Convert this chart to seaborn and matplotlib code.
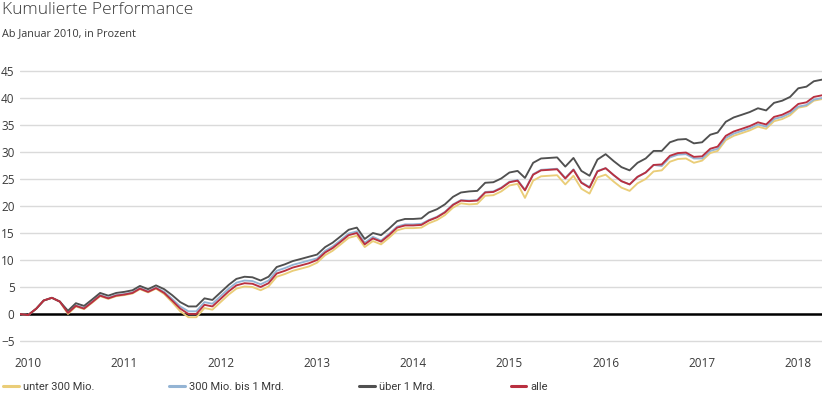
import matplotlib
matplotlib.use("Agg")
import matplotlib.pyplot as plt
from matplotlib.lines import Line2D
import numpy as np
import pandas as pd
import seaborn as sns

# ---- data (monthly, Dec 2009 .. Apr 2018), cumulative performance in % ----
start_month = "2009-12-01"
n_months = 101

ueber_1_mrd = [
    0.0, -0.2, 1.0, 2.5, 3.0, 2.3, 0.6, 2.0, 1.5, 2.7,
    3.9, 3.4, 3.9, 4.1, 4.4, 5.2, 4.6, 5.3, 4.6, 3.5,
    2.2, 1.4, 1.4, 2.9, 2.6, 4.0, 5.4, 6.5, 6.9, 6.8,
    6.2, 6.9, 8.7, 9.2, 9.8, 10.2, 10.6, 11.0, 12.4, 13.2,
    14.4, 15.6, 16.0, 13.9, 15.0, 14.6, 15.8, 17.2, 17.6, 17.6,
    17.7, 18.8, 19.4, 20.3, 21.7, 22.5, 22.7, 22.8, 24.3, 24.4,
    25.1, 26.2, 26.5, 25.2, 28.0, 28.8, 28.9, 29.0, 27.3, 28.9,
    26.5, 25.6, 28.6, 29.6, 28.3, 27.2, 26.6, 28.0, 28.8, 30.2,
    30.2, 31.8, 32.3, 32.4, 31.6, 31.8, 33.2, 33.6, 35.6, 36.4,
    36.9, 37.4, 38.1, 37.7, 39.1, 39.5, 40.2, 41.8, 42.1, 43.1,
    43.4,
]
mio_300_bis_1_mrd = [
    0.0, -0.2, 1.0, 2.5, 3.0, 2.3, 0.3, 1.6, 1.1, 2.3,
    3.5, 3.0, 3.5, 3.7, 4.0, 4.8, 4.2, 4.9, 4.1, 2.8,
    1.4, 0.5, 0.5, 2.2, 1.9, 3.3, 4.7, 5.8, 6.2, 6.1,
    5.5, 6.2, 8.0, 8.5, 9.1, 9.5, 9.9, 10.3, 11.7, 12.5,
    13.7, 14.9, 15.3, 13.2, 14.3, 13.6, 14.8, 16.2, 16.6, 16.6,
    16.7, 17.4, 18.0, 18.9, 20.3, 21.1, 21.0, 21.1, 22.6, 22.7,
    23.4, 24.5, 24.8, 23.0, 25.9, 26.7, 26.8, 26.9, 25.2, 26.8,
    24.4, 23.5, 26.5, 27.0, 25.7, 24.6, 24.0, 25.4, 26.2, 27.6,
    27.4, 29.0, 29.5, 29.6, 28.8, 28.8, 30.2, 30.6, 32.6, 33.4,
    33.9, 34.4, 35.1, 34.7, 36.1, 36.5, 37.2, 38.4, 38.7, 39.7,
    40.0,
]
alle = [
    0.0, -0.2, 1.0, 2.5, 3.0, 2.3, 0.2, 1.5, 1.0, 2.2,
    3.4, 2.9, 3.4, 3.6, 3.9, 4.7, 4.1, 4.8, 3.9, 2.5,
    1.0, 0.0, 0.0, 1.7, 1.4, 2.8, 4.2, 5.3, 5.7, 5.6,
    5.0, 5.7, 7.5, 8.0, 8.6, 9.0, 9.4, 10.0, 11.4, 12.2,
    13.4, 14.6, 15.0, 12.9, 14.0, 13.4, 14.6, 16.0, 16.4, 16.4,
    16.5, 17.3, 17.9, 18.8, 20.2, 21.0, 20.9, 21.0, 22.5, 22.6,
    23.3, 24.4, 24.7, 22.9, 25.8, 26.6, 26.7, 26.8, 25.1, 26.7,
    24.3, 23.4, 26.4, 27.0, 25.7, 24.6, 24.0, 25.4, 26.2, 27.6,
    27.7, 29.3, 29.8, 29.9, 29.1, 29.2, 30.6, 31.0, 33.0, 33.8,
    34.3, 34.8, 35.5, 35.1, 36.5, 36.9, 37.6, 38.9, 39.2, 40.2,
    40.5,
]
unter_300_mio = [
    0.0, -0.2, 1.0, 2.5, 3.0, 2.3, 0.0, 1.4, 0.9, 2.1,
    3.3, 2.8, 3.3, 3.5, 3.8, 4.6, 4.0, 4.7, 3.7, 2.2,
    0.5, -0.6, -0.6, 1.1, 0.8, 2.2, 3.6, 4.7, 5.1, 5.0,
    4.4, 5.1, 6.9, 7.4, 8.0, 8.4, 8.8, 9.5, 10.9, 11.7,
    12.9, 14.1, 14.5, 12.4, 13.5, 12.9, 14.1, 15.5, 15.9, 15.9,
    16.0, 16.8, 17.4, 18.3, 19.7, 20.5, 20.3, 20.4, 21.9, 22.0,
    22.7, 23.8, 24.1, 21.5, 24.7, 25.5, 25.6, 25.7, 24.0, 25.6,
    23.2, 22.3, 25.3, 25.8, 24.5, 23.4, 22.8, 24.2, 25.0, 26.4,
    26.6, 28.2, 28.7, 28.8, 28.0, 28.4, 29.8, 30.2, 32.2, 33.0,
    33.5, 34.0, 34.7, 34.3, 35.7, 36.1, 36.8, 38.2, 38.5, 39.5,
    39.8,
]

series_names = ["unter 300 Mio.", "300 Mio. bis 1 Mrd.", "über 1 Mrd.", "alle"]
series_values = [unter_300_mio, mio_300_bis_1_mrd, ueber_1_mrd, alle]
series_colors = ["#eacd78", "#94b4d4", "#505050", "#b93040"]
y_ticks = [-5, 0, 5, 10, 15, 20, 25, 30, 35, 40, 45]
x_tick_years = [2010, 2011, 2012, 2013, 2014, 2015, 2016, 2017, 2018]

title = "Kumulierte Performance"
subtitle = "Ab Januar 2010, in Prozent"

# ---- build tidy frame ----
dates = pd.date_range(start_month, periods=n_months, freq="MS")
wide = pd.DataFrame({"Datum": dates})
for name, vals in zip(series_names, series_values):
    wide[name] = vals
long = wide.melt(id_vars="Datum", var_name="Serie", value_name="Wert")

# ---- style ----
sns.set_theme(style="white")
plt.rcParams["font.family"] = ["Open Sans", "DejaVu Sans"]
text_color = "#3a3a3a"

fig = plt.figure(figsize=(8.3, 3.98), dpi=100)
px_per_unit = 5.4
ylo, yhi = -5.3, 45.3
ax_top_px = 314 - yhi * px_per_unit
ax_bot_px = 314 - ylo * px_per_unit
ax = fig.add_axes([20 / 830, (398 - ax_bot_px) / 398, 802 / 830,
                   (ax_bot_px - ax_top_px) / 398])

ax.axhline(0, color="black", lw=1.8, zorder=1.5)
sns.lineplot(data=long, x="Datum", y="Wert", hue="Serie",
             hue_order=series_names,
             palette=dict(zip(series_names, series_colors)),
             linewidth=1.35, ax=ax, legend=False, zorder=3)

ax.set_ylim(ylo, yhi)
ax.set_yticks(y_ticks)
ax.set_yticklabels([str(t).replace("-", "\u2212") for t in y_ticks])
ax.grid(axis="y", color="#dadada", lw=1.0)
ax.grid(axis="x", visible=False)
ax.set_axisbelow(True)
ax.set_xlim(dates[0], dates[-1])
ax.set_xticks([pd.Timestamp(f"{y}-01-01") for y in x_tick_years])
ax.set_xticklabels([str(y) for y in x_tick_years])
for s in ax.spines.values():
    s.set_visible(False)
ax.tick_params(axis="y", length=0, pad=4, labelsize=8.5, labelcolor=text_color)
ax.tick_params(axis="x", length=0, pad=10, labelsize=8.5, labelcolor=text_color)
ax.set_xlabel("")
ax.set_ylabel("")

fig.text(0.003, 0.995, title, ha="left", va="top", fontsize=12.5,
         color=text_color, fontweight="light")
fig.text(0.003, 0.93, subtitle, ha="left", va="top", fontsize=7.8,
         color=text_color)

handles = [Line2D([0], [0], color=c, lw=2.2) for c in series_colors]
fig.legend(handles, series_names, loc="center left",
           bbox_to_anchor=(3 / 830, 11 / 398), ncol=4, frameon=False,
           handlelength=1.4, handletextpad=0.4, columnspacing=6.75,
           borderaxespad=0, borderpad=0,
           prop={"family": ["Roboto", "DejaVu Sans"], "size": 8},
           labelcolor=text_color)

fig.savefig("out.png", dpi=100)
